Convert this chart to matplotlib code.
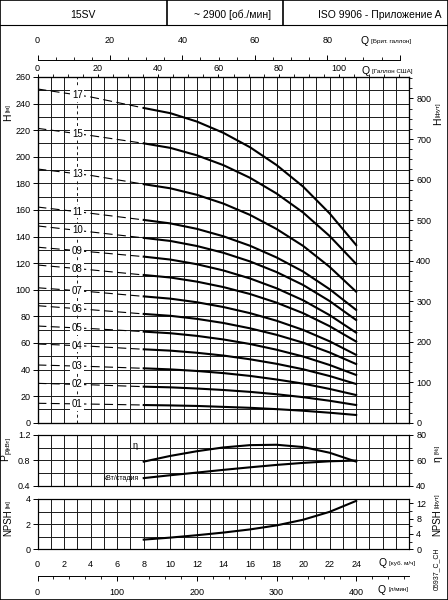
import numpy as np
import matplotlib.pyplot as plt
from matplotlib.patches import Rectangle
from matplotlib.lines import Line2D
from matplotlib.ticker import MultipleLocator

plt.rcParams['font.family'] = ['Liberation Sans', 'DejaVu Sans']
plt.rcParams['mathtext.default'] = 'regular'

# Flow points [m3/h] for the head curves (0..8 dashed, 8..24 solid)
q_flow = [0, 4, 8, 10, 12, 14, 16, 18, 20, 22, 24]

# Head [m] per pump model (number of stages)
head_17 = [251.0, 245.0, 236.7, 232.8, 226.5, 218.0, 207.2, 193.8, 177.6, 157.4, 133.6]
head_15 = [221.4, 216.0, 210.1, 206.7, 201.1, 193.7, 184.2, 172.4, 158.1, 140.4, 119.4]
head_13 = [190.8, 186.0, 179.4, 176.3, 171.4, 164.8, 156.3, 145.7, 133.0, 117.2, 98.5]
head_11 = [162.2, 157.5, 152.5, 149.9, 145.8, 140.2, 133.1, 124.3, 113.7, 100.4, 84.8]
head_10 = [148.0, 143.5, 139.0, 136.7, 132.9, 127.8, 121.3, 113.3, 103.6, 91.5, 77.2]
head_09 = [132.0, 128.5, 124.9, 122.7, 119.2, 114.5, 108.5, 101.1, 92.1, 80.9, 67.7]
head_08 = [118.6, 115.0, 111.1, 109.2, 106.1, 102.0, 96.8, 90.3, 82.4, 72.6, 61.0]
head_07 = [101.5, 98.5, 95.0, 93.3, 90.6, 87.0, 82.4, 76.7, 69.8, 61.2, 51.0]
head_06 = [88.0, 85.0, 81.8, 80.4, 78.1, 75.0, 71.0, 66.1, 60.2, 52.8, 44.1]
head_05 = [72.7, 70.8, 68.5, 67.3, 65.3, 62.6, 59.2, 54.9, 49.8, 43.4, 35.9]
head_04 = [59.2, 57.5, 55.2, 54.2, 52.6, 50.5, 47.7, 44.3, 40.2, 35.1, 29.1]
head_03 = [43.4, 42.3, 40.9, 40.1, 38.9, 37.3, 35.2, 32.5, 29.4, 25.4, 20.8]
head_02 = [29.6, 28.5, 27.1, 26.6, 25.7, 24.6, 23.2, 21.4, 19.2, 16.5, 13.3]
head_01 = [14.6, 14.0, 13.3, 13.0, 12.6, 11.9, 11.2, 10.2, 9.0, 7.5, 5.8]

stage_names = ['17', '15', '13', '11', '10', '09', '08', '07', '06', '05', '04', '03', '02', '01']
head_curves = [head_17, head_15, head_13, head_11, head_10, head_09, head_08,
               head_07, head_06, head_05, head_04, head_03, head_02, head_01]

# Power per stage, efficiency and NPSH
q_perf = [8, 10, 12, 14, 16, 18, 20, 22, 24]
power_kw = [0.52, 0.565, 0.607, 0.65, 0.69, 0.728, 0.76, 0.785, 0.797]
eff_pct = [59.0, 63.5, 67.2, 70.2, 72.0, 72.3, 70.5, 66.0, 59.0]
npsh_m = [0.77, 0.93, 1.12, 1.33, 1.58, 1.90, 2.35, 2.98, 3.85]

# unit conversions
Q_MAX = 28
M3H_TO_USGPM = 4.4029
M3H_TO_IMPGPM = 3.6662
M3H_TO_LMIN = 16.6667
M_TO_FT = 1 / 0.3048

W, HGT = 448, 600
def fx(x):
    return x / W
def fy(y):
    return 1 - y / HGT

X0, X1 = 37.5, 409.3
fig = plt.figure(figsize=(4.48, 6.0), dpi=100)

def panel(top, bottom):
    return fig.add_axes([fx(X0), fy(bottom), fx(X1) - fx(X0), (bottom - top) / HGT])

def draw_grid(a, ystep, dashed_q=None):
    y0, y1 = a.get_ylim()
    for q in range(1, Q_MAX):
        ls = (0, (3, 3)) if q == dashed_q else '-'
        a.axvline(q, color='#1a1a1a', lw=0.7, ls=ls, zorder=1)
    for yv in np.arange(y0 + ystep, y1 - ystep / 2, ystep):
        a.axhline(yv, color='#1a1a1a', lw=0.7, zorder=1)
    for s in a.spines.values():
        s.set_linewidth(0.8)

tick_kw = dict(labelsize=6.5, width=0.7, colors='black')

# ---- main head chart ----
ax = panel(77, 422.7)
ax.set_xlim(0, Q_MAX)
ax.set_ylim(0, 260)
draw_grid(ax, 10, dashed_q=3)
ax.set_xticks([])
ax.set_yticks(range(0, 261, 20))
ax.tick_params(axis='y', direction='out', length=3.5, pad=1.5, **tick_kw)

for name, h in zip(stage_names, head_curves):
    ax.plot(q_flow[:3], h[:3], color='black', lw=0.8, ls=(0, (8, 4)), zorder=3)
    ax.plot(q_flow[2:], h[2:], color='black', lw=1.5, zorder=3)
    ax.text(3, np.interp(3, q_flow[:3], h[:3]), name, ha='center', va='center',
            fontsize=7, zorder=4, bbox=dict(facecolor='white', edgecolor='none', pad=1.2))

axr = ax.twinx()
axr.set_ylim(0, 260 * M_TO_FT)
axr.set_yticks(range(0, 801, 100))
axr.yaxis.set_minor_locator(MultipleLocator(25))
axr.tick_params(axis='y', which='major', direction='out', length=3, pad=2, **tick_kw)
axr.tick_params(axis='y', which='minor', direction='out', length=2, width=0.6)

axu = ax.twiny()
axu.set_xlim(0, Q_MAX * M3H_TO_USGPM)
axu.set_xticks(range(0, 101, 20))
axu.xaxis.set_minor_locator(MultipleLocator(5))
axu.tick_params(axis='x', which='major', direction='out', length=2.5, pad=0.5, **tick_kw)
axu.tick_params(axis='x', which='minor', direction='out', length=2, width=0.6)

# Brit. gallon scale
ab = fig.add_axes([fx(X0), fy(60.5), fx(X1) - fx(X0), 0.0001])
ab.set_xlim(0, Q_MAX * M3H_TO_IMPGPM)
ab.patch.set_visible(False)
for side in ['left', 'right', 'bottom']:
    ab.spines[side].set_visible(False)
ab.spines['top'].set_bounds(0, 100)
ab.spines['top'].set_linewidth(0.7)
ab.set_yticks([])
ab.xaxis.tick_top()
ab.set_xticks(range(0, 101, 20))
ab.set_xticklabels(['0', '20', '40', '60', '80', ''])
ab.xaxis.set_minor_locator(MultipleLocator(5))
ab.tick_params(axis='x', which='major', direction='out', length=3.5, pad=7.5, **tick_kw)
ab.tick_params(axis='x', which='minor', direction='out', length=2, width=0.6)

# ---- power / efficiency ----
am = panel(435, 485.7)
am.set_xlim(0, Q_MAX)
am.set_ylim(0.4, 1.2)
draw_grid(am, 0.2)
am.set_xticks([])
am.set_yticks([0.4, 0.8, 1.2])
am.set_yticklabels(['0.4', '0.8', '1.2'])
am.tick_params(axis='y', direction='out', length=3.5, pad=1.5, **tick_kw)
am.plot(q_perf, power_kw, color='black', lw=1.5, zorder=3)

amr = am.twinx()
amr.set_ylim(40, 80)
amr.set_yticks([40, 60, 80])
amr.yaxis.set_minor_locator(MultipleLocator(10))
amr.tick_params(axis='y', which='major', direction='out', length=3, pad=2, **tick_kw)
amr.tick_params(axis='y', which='minor', direction='out', length=2, width=0.6)
amr.plot(q_perf, eff_pct, color='black', lw=1.5, zorder=3)

fig.text(fx(135), fy(446), 'η', ha='center', va='center', fontsize=6.5)
fig.text(fx(139), fy(478), 'кВт/стадия', ha='right', va='center', fontsize=5)

# ---- NPSH ----
an = panel(499, 549.3)
an.set_xlim(0, Q_MAX)
an.set_ylim(0, 4)
draw_grid(an, 1)
an.set_xticks(range(0, 25, 2))
an.set_yticks([0, 2, 4])
an.tick_params(axis='x', length=0, pad=7.5, **tick_kw)
an.tick_params(axis='y', direction='out', length=3.5, pad=1.5, **tick_kw)
an.plot(q_perf, npsh_m, color='black', lw=1.5, zorder=3)

anr = an.twinx()
anr.set_ylim(0, 4 * M_TO_FT)
anr.set_yticks([0, 4, 8, 12])
anr.yaxis.set_minor_locator(MultipleLocator(2))
anr.tick_params(axis='y', which='major', direction='out', length=3, pad=2, **tick_kw)
anr.tick_params(axis='y', which='minor', direction='out', length=2, width=0.6)

# l/min scale
al = fig.add_axes([fx(X0), fy(575.7), fx(X1) - fx(X0), 0.0001])
al.set_xlim(0, Q_MAX * M3H_TO_LMIN)
al.patch.set_visible(False)
for side in ['left', 'right', 'top']:
    al.spines[side].set_visible(False)
al.spines['bottom'].set_linewidth(0.7)
al.set_yticks([])
al.set_xticks(range(0, 401, 100))
al.xaxis.set_minor_locator(MultipleLocator(20))
al.tick_params(axis='x', which='major', direction='out', length=3.5, pad=5, **tick_kw)
al.tick_params(axis='x', which='minor', direction='out', length=2, width=0.6)

# ---- unit captions ----
def q_caption(xq, y, unit):
    fig.text(fx(xq), fy(y), 'Q', ha='center', va='center', fontsize=7.5)
    fig.text(fx(xq + 6), fy(y), unit, ha='left', va='center', fontsize=4.5)

q_caption(364.5, 41, '[Брит. галлон]')
q_caption(366, 71.5, '[Галлон США]')
q_caption(382.5, 563.3, '[куб. м/ч]')
q_caption(382, 590, '[л/мин]')

def side_label(x, y_big, big, y_small, small, big_size=7.5):
    fig.text(fx(x), fy(y_big), big, rotation=90, ha='center', va='bottom', fontsize=big_size)
    fig.text(fx(x), fy(y_small), small, rotation=90, ha='center', va='bottom', fontsize=4.5)

side_label(8, 121, 'H', 112.5, '[м]')
side_label(438, 125, 'H', 117, '[фут]')
side_label(8, 462, 'P$_p$', 450, '[кВт]')
side_label(437, 462, 'η', 454.5, '[%]')
side_label(8, 535.5, 'NPSH', 508, '[м]', big_size=7)
side_label(437, 535.5, 'NPSH', 508, '[фут]', big_size=7)

fig.text(fx(437), fy(590), '05937_C_CH', rotation=90, ha='center', va='bottom', fontsize=5)

# ---- header ----
fig.add_artist(Rectangle((0, 0), 1, 1, transform=fig.transFigure, fill=False, lw=1.2, ec='black'))
fig.add_artist(Line2D([0, 1], [fy(25), fy(25)], transform=fig.transFigure, color='black', lw=0.8))
for xd in [166.7, 282.7]:
    fig.add_artist(Line2D([fx(xd), fx(xd)], [fy(0), fy(25)], transform=fig.transFigure, color='black', lw=1.2))
fig.text(fx(83), fy(15), '15SV', ha='center', va='center', fontsize=7.5)
fig.text(fx(233), fy(15), '~ 2900 [об./мин]', ha='center', va='center', fontsize=7.5)
fig.text(fx(380), fy(15), 'ISO 9906 - Приложение A', ha='center', va='center', fontsize=7.5)

fig.savefig('out.png', dpi=100)
